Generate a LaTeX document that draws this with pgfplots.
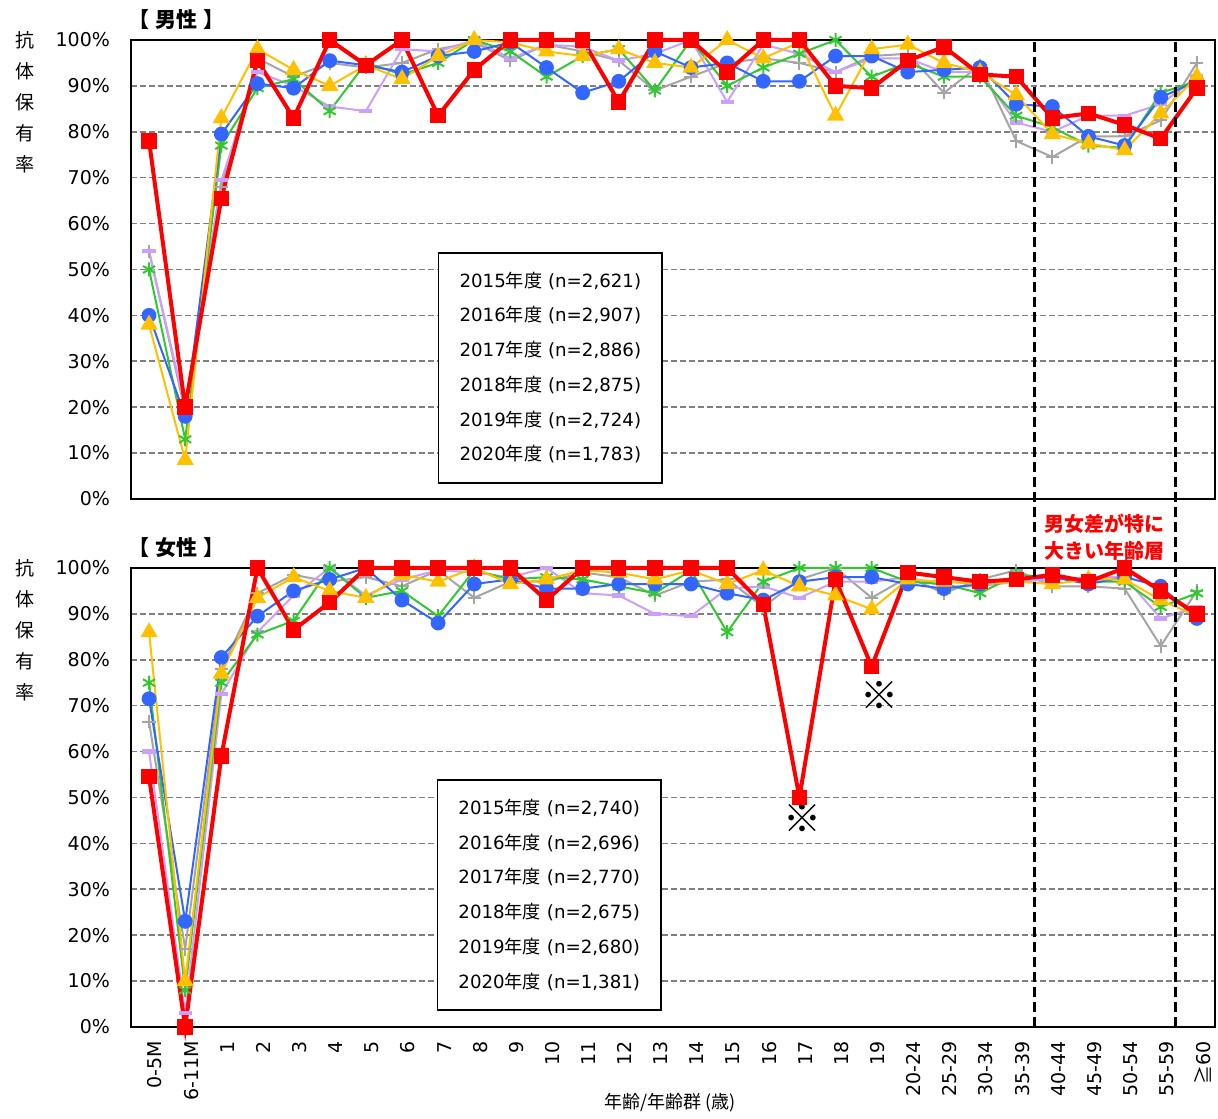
\documentclass[border=0pt]{standalone}
\usepackage{fontspec}
\setmainfont{DejaVu Sans}
\newfontfamily\jp{Noto Sans CJK JP}
\usepackage{pgfplots}
\pgfplotsset{compat=1.18}
\usepackage{pgfplotstable}

\definecolor{cgray}{RGB}{165,165,165}
\definecolor{cpurple}{RGB}{204,160,250}
\definecolor{cgreen}{RGB}{50,200,50}
\definecolor{cblue}{RGB}{51,102,255}
\definecolor{cyellow}{RGB}{255,192,0}
\definecolor{cred}{RGB}{255,0,0}

% male
\pgfplotstableread{
i g p gr b y r
0 54 54 50 40 38 78
1 19 20 13 18 8.5 20
2 68 69.5 77 79.5 83 65.5
3 96 93 89.5 90.5 98 95.5
4 92 90 91.5 89.5 93.5 83
5 95 85.5 84.5 95.5 90 100
6 94 84.5 95 94.5 94.5 94.5
7 95 98 92.5 93 91.5 100
8 98 97.5 95 96.5 96.5 83.5
9 99.5 100 100 97.5 100 93.5
10 95.5 96 97.5 99.5 99.5 100
11 99 99 92 94 97.5 100
12 97.5 98.5 96.5 88.5 96.5 100
13 95.5 95.5 98 91 98 86.5
14 89 97 89 97.5 95 100
15 92 100 100 94 94 100
16 95 86.5 90 95 100 93
17 96 99 94 91 96 100
18 95 97 97 91 99.5 100
19 93 93 100 96.5 83.5 90
20 96.5 96 92 96.5 98 89.5
21 97 96 95 93 99 95.5
22 88.5 93 92 93.5 95 98.5
23 94.5 93 92 94 93 92.5
24 78 82 83.5 86 88 92
25 74.5 80 81 85.5 79.5 83
26 79 83.5 77 79 77.5 84
27 79 83.5 76.5 77 76 81.5
28 82.5 86 88.5 87.5 84 78.5
29 95 92 91 91 92 89.5
}\male

% female
\pgfplotstableread{
i g p gr b y r
0 66.5 60 75 71.5 86 54.5
1 17 3 8 23 10 0
2 78 72.5 75 80.5 77 59
3 94.5 86 85.5 89.5 93.5 100
4 98.5 94 88.5 95 98 86.5
5 97 100 100 97.5 95 92.5
6 98 94 93.5 100 93.5 100
7 96 97.5 95 93 98.5 100
8 99.5 99.5 89.5 88 97 100
9 93.5 99 99.5 96.5 100 100
10 97 98 97.5 97.5 96.5 100
11 97 100 98 95.5 97.5 93
12 99 94.5 97.5 95.5 99.5 100
13 98 94 96 96.5 99 100
14 94 90 94.5 96.5 97.5 100
15 97 89.5 99.5 96.5 99.5 100
16 97.5 95.5 86 94.5 96.5 100
17 91.5 96 97 93 99.5 92
18 97.5 93.5 100 97 96 50
19 100 97 100 98 94 97.5
20 93.5 97 100 98 91 78.5
21 98 98 97 96.5 97.5 99
22 94.5 96 96.5 95.5 97 98
23 97.5 96 94.5 96.5 96.5 97
24 99.5 97 98.5 97.5 97 97.5
25 96 97.5 98 98 96.5 98.5
26 96 98 97 96.5 97.5 97
27 95.5 98 97 98 97.5 100
28 83 89 91.5 96 93 95
29 95 91.5 94.5 89 89.5 90
}\female

\pgfplotsset{
  base/.style={
    width=542pt, height=229.5pt, scale only axis,
    xmin=-0.5, xmax=29.5, ymin=0, ymax=100,
    ytick={0,10,...,100},
    yticklabel={\pgfmathprintnumber{\tick}\%},
    /pgf/number format/assume math mode=true,
    ymajorgrids,
    grid style={color=black!50, line width=0.8pt, dash pattern=on 3pt off 1.5pt},
    xtick={0,...,29},
    major tick length=0pt,
    axis line style={line width=0.8pt},
    tick label style={font=\fontsize{9.5}{11}\selectfont},
    yticklabel style={xshift=-7pt},
    clip=false,
    legend image code/.code={},
    legend cell align=center,
    legend style={draw=black, line width=0.8pt, font=\fontsize{9.1}{10.5}\selectfont,
      anchor=north west, row sep=4.2pt, inner xsep=8.5pt, inner ysep=7.5pt,
      /tikz/every even column/.append style={column sep=0pt}},
  },
  sgray/.style={color=cgray, line width=1pt, mark=+, mark size=3.3pt, mark options={solid, line width=1pt}},
  spurple/.style={color=cpurple, line width=1pt, mark=-, mark size=3.3pt, mark options={solid, line width=2.2pt}},
  sgreen/.style={color=cgreen, line width=1pt, mark=asterisk, mark size=3.5pt, mark options={solid, line width=1pt}},
  sblue/.style={color=cblue, line width=1pt, mark=*, mark size=3.2pt, mark options={solid, fill=cblue}},
  syellow/.style={color=cyellow, line width=1pt, mark=triangle*, mark size=4pt, mark options={solid, fill=cyellow}},
  sred/.style={color=cred, line width=2pt, mark=square*, mark size=3.6pt, mark options={solid, fill=cred, line width=0.5pt}},
}

\begin{document}
\begin{tikzpicture}
% male axis
\begin{axis}[base, name=axm, at={(0,264pt)}, xticklabels={},
  legend style={at={(0.283,0.538)}}]
\addplot[sgray] table[x=i,y=g]{\male}; \addlegendentry{2015{\jp 年度} (n=2,621)}
\addplot[spurple] table[x=i,y=p]{\male}; \addlegendentry{2016{\jp 年度} (n=2,907)}
\addplot[sgreen] table[x=i,y=gr]{\male}; \addlegendentry{2017{\jp 年度} (n=2,886)}
\addplot[sblue] table[x=i,y=b]{\male}; \addlegendentry{2018{\jp 年度} (n=2,875)}
\addplot[syellow] table[x=i,y=y]{\male}; \addlegendentry{2019{\jp 年度} (n=2,724)}
\addplot[sred] table[x=i,y=r]{\male}; \addlegendentry{2020{\jp 年度} (n=1,783)}
\end{axis}
% female axis
\begin{axis}[base, name=axf, at={(0,0)},
  xticklabels={{0-5M},{6-11M},1,2,3,4,5,6,7,8,9,10,11,12,13,14,15,16,17,18,19,{20-24},{25-29},{30-34},{35-39},{40-44},{45-49},{50-54},{55-59},{{\jp ≧}60}},
  xticklabel style={rotate=90, anchor=east, yshift=-3pt, xshift=-3.5pt},
  legend style={at={(0.282,0.540)}}]
\addplot[sgray] table[x=i,y=g]{\female}; \addlegendentry{2015{\jp 年度} (n=2,740)}
\addplot[spurple] table[x=i,y=p]{\female}; \addlegendentry{2016{\jp 年度} (n=2,696)}
\addplot[sgreen] table[x=i,y=gr]{\female}; \addlegendentry{2017{\jp 年度} (n=2,770)}
\addplot[sblue] table[x=i,y=b]{\female}; \addlegendentry{2018{\jp 年度} (n=2,675)}
\addplot[syellow] table[x=i,y=y]{\female}; \addlegendentry{2019{\jp 年度} (n=2,680)}
\addplot[sred] table[x=i,y=r]{\female}; \addlegendentry{2020{\jp 年度} (n=1,381)}
\draw[black, line width=1.6pt, dash pattern=on 5pt off 2.5pt] (axis cs:24.5,0) -- (axis cs:24.5,215);
\draw[black, line width=1.6pt, dash pattern=on 5pt off 2.5pt] (axis cs:28.4,0) -- (axis cs:28.4,215);
\node[font=\jp\bfseries\fontsize{10}{13.5}\selectfont, text=cred, align=center] at (axis cs:26.43,106.8) {男女差が特に\\大きい年齢層};
\node[font=\jp\bfseries\fontsize{19}{19}\selectfont] at (axis cs:20.22,72.3) {※};
\node[font=\jp\bfseries\fontsize{19}{19}\selectfont] at (axis cs:18.08,45.5) {※};
\node[font=\jp\fontsize{9}{11}\selectfont] at ([yshift=-38pt]rel axis cs:0.497,0) {年齢/年齢群 (歳)};
\end{axis}
% titles and y labels
\node[anchor=west, font=\jp\bfseries\fontsize{10.5}{12}\selectfont, inner sep=0pt] at ([xshift=-1.5pt,yshift=10pt]axm.north west) {【\hspace{3pt}男性\hspace{3pt}】};
\node[anchor=west, font=\jp\bfseries\fontsize{10.5}{12}\selectfont, inner sep=0pt] at ([xshift=-1.5pt,yshift=10pt]axf.north west) {【\hspace{3pt}女性\hspace{3pt}】};
\node[anchor=north, align=center, inner sep=0pt, font=\jp\fontsize{9.5}{15.5}\selectfont] at ([xshift=-53pt,yshift=4.5pt]axm.north west) {抗\\体\\保\\有\\率};
\node[anchor=north, align=center, inner sep=0pt, font=\jp\fontsize{9.5}{15.5}\selectfont] at ([xshift=-53pt,yshift=4.5pt]axf.north west) {抗\\体\\保\\有\\率};
\path ([shift={(-65.5pt,-43.5pt)}]axf.south west) rectangle ([shift={(543.5pt,513.5pt)}]axf.south west);
\end{tikzpicture}
\end{document}
